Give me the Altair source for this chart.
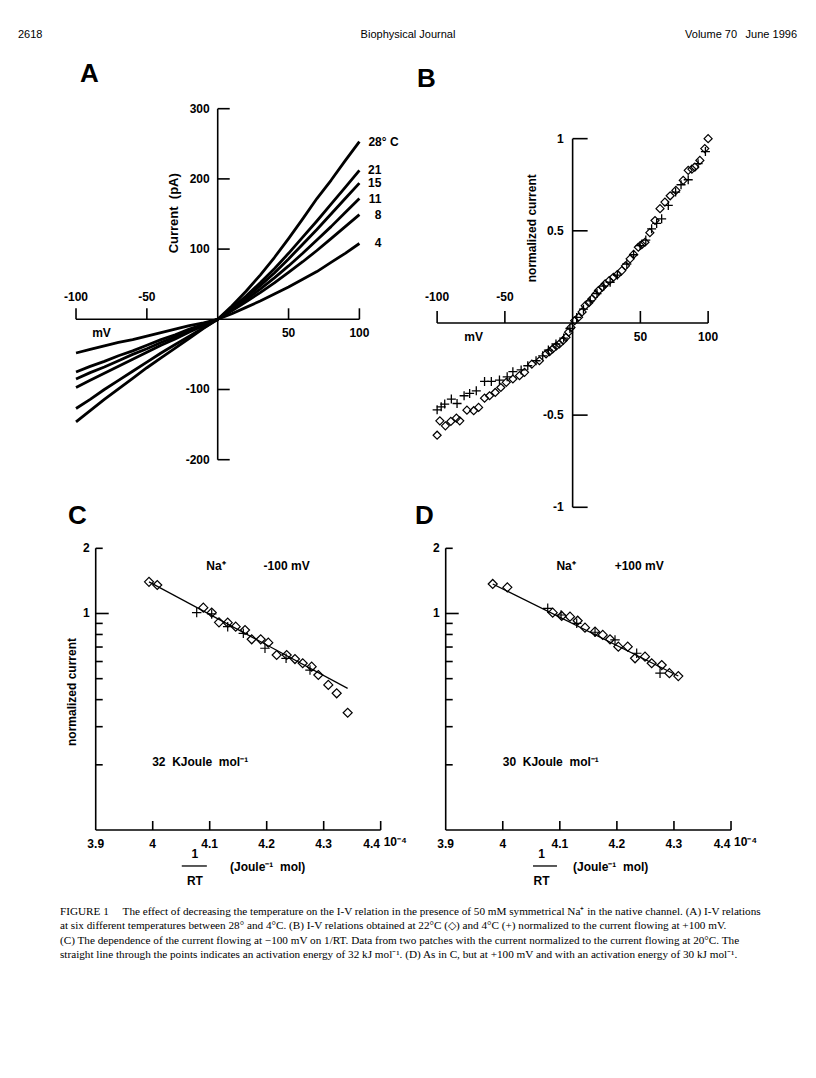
import altair as alt
import pandas as pd

SANS = "Liberation Sans"
SERIF = "Liberation Serif"
SP = "\u00a0"

# ---------------- data ----------------
# Panel A: I-V traces (mV, pA) at six temperatures
volt = [-100, -90, -80, -70, -60, -50, -40, -30, -20, -10, 0,
        10, 20, 30, 40, 50, 60, 70, 80, 90, 100]
trace_temps = ["28° C", "21", "15", "11", "8", "4"]
cur_28 = [-146, -130, -114, -99, -84, -69, -55, -41, -27, -13, 0, 19, 40, 63, 88, 115, 143, 172, 198, 226, 253]
cur_21 = [-127, -114, -100, -87, -74, -61, -48, -36, -24, -12, 0, 16, 33, 52, 72, 94, 117, 140, 164, 188, 212]
cur_15 = [-97, -87, -77, -67, -57, -47, -37, -28, -18, -9, 0, 15, 31, 48, 66, 86, 107, 128, 150, 172, 194]
cur_11 = [-85, -76, -68, -59, -50, -42, -33, -25, -16, -8, 0, 14, 28, 43, 59, 76, 94, 113, 132, 152, 172]
cur_8 = [-75, -67, -60, -52, -45, -37, -29, -22, -14, -7, 0, 12, 25, 38, 52, 67, 82, 98, 115, 132, 149]
cur_4 = [-48, -43, -38, -33, -29, -24, -19, -14, -9, -5, 0, 8, 17, 26, 36, 46, 57, 68, 81, 94, 108]
a_y_ticks = [300, 200, 100, -100, -200]
a_x_ticks = [-100, -50, 50, 100]

# Panel B: normalized I-V, 22 C (diamonds) and 4 C (plus)
b_diam_v = [-100, -98, -93.9, -89.9, -85.8, -83.3, -78, -73, -69.4, -65, -61.3, -57.1, -53, -49, -44.1,
            -39.2, -35.5, -30.1, -24.5, -19.6, -17, -14.7, -12, -9.8, -7, -4.9, -3, -1.2,
            1.5, 4.4, 7, 9.3, 12, 14.2, 17, 19.1, 22, 24, 27, 30.1, 33, 36.3, 39, 42.4, 45, 48.5, 51,
            53.4, 57, 60.8, 64.5, 68.1, 72, 76.2, 81.6, 85.3, 88, 90.2, 93.9, 97.5, 100]
b_diam_i = [-0.609, -0.531, -0.558, -0.534, -0.516, -0.531, -0.473, -0.476, -0.458, -0.408, -0.395, -0.377,
            -0.35, -0.322, -0.304, -0.286, -0.268, -0.223, -0.205, -0.168, -0.155, -0.141, -0.125, -0.114,
            -0.095, -0.078, -0.05, -0.024,
            0.012, 0.031, 0.06, 0.094, 0.11, 0.13, 0.155, 0.176, 0.195, 0.212, 0.23, 0.248, 0.262, 0.284,
            0.31, 0.348, 0.372, 0.411, 0.425, 0.438, 0.49, 0.556, 0.62, 0.656, 0.69, 0.719, 0.774, 0.828,
            0.835, 0.846, 0.882, 0.946, 1.0]
b_plus_v = [-100, -97, -94.4, -89.5, -85.3, -80.1, -76, -71.1, -65, -60, -54, -48.3, -44.1, -38, -33.1,
            -27, -22.1, -17.9, -12.3, -6.6, -2, 3, 8, 13, 18, 23, 27.7, 33, 40, 45, 49.8, 54, 58.3, 62,
            65.7, 70.6, 76, 80, 85.3, 92.6, 98]
b_plus_i = [-0.471, -0.455, -0.44, -0.413, -0.437, -0.395, -0.382, -0.368, -0.317, -0.317, -0.31, -0.292,
            -0.264, -0.255, -0.232, -0.205, -0.178, -0.147, -0.114, -0.082, -0.03, 0.03, 0.075, 0.12, 0.16,
            0.2, 0.221, 0.26, 0.32, 0.37, 0.42, 0.45, 0.511, 0.54, 0.565, 0.638, 0.71, 0.75, 0.777, 0.864, 0.93]
b_y_ticks = [1, 0.5, -0.5, -1]
b_y_labels = ["1", "0.5", "-0.5", "-1"]
b_x_ticks = [-100, -50, 50, 100]

# Panel C: current at -100 mV vs 1/RT (10^-4 mol/J)
c_diam_x = [3.9935, 4.008, 4.0888, 4.1035, 4.1163, 4.1316, 4.1456, 4.162, 4.1737, 4.1895, 4.2028,
            4.2175, 4.2351, 4.2496, 4.2632, 4.2789, 4.2906, 4.3081, 4.3228, 4.3421]
c_diam_y = [1.40, 1.354, 1.064, 1.01, 0.91, 0.907, 0.869, 0.839, 0.76, 0.76, 0.733,
            0.643, 0.643, 0.616, 0.589, 0.568, 0.52, 0.468, 0.428, 0.348]
c_plus_x = [4.0772, 4.1035, 4.1316, 4.159, 4.197, 4.234, 4.276]
c_plus_y = [1.01, 0.995, 0.869, 0.81, 0.691, 0.621, 0.548]
c_fit_x = [3.9935, 4.342]
c_fit_y = [1.40, 0.451]

# Panel D: current at +100 mV vs 1/RT
d_diam_x = [3.9824, 4.008, 4.0875, 4.1033, 4.1178, 4.1313, 4.1441, 4.1617, 4.1752, 4.188, 4.2025,
            4.219, 4.2318, 4.2493, 4.261, 4.2786, 4.292, 4.3076]
d_diam_y = [1.369, 1.321, 1.009, 0.974, 0.967, 0.926, 0.86, 0.824, 0.796, 0.76, 0.703,
            0.703, 0.621, 0.632, 0.589, 0.578, 0.53, 0.514]
d_plus_x = [4.0788, 4.1021, 4.1296, 4.1617, 4.1967, 4.2347, 4.2756]
d_plus_y = [1.057, 0.984, 0.901, 0.819, 0.755, 0.655, 0.53]
d_fit_x = [3.9824, 4.3076]
d_fit_y = [1.369, 0.514]

cd_x_ticks = [4.0, 4.1, 4.2, 4.3, 4.4]
cd_x_labels = ["3.9", "4", "4.1", "4.2", "4.3"]
cd_x_label_vals = [3.9, 4.0, 4.1, 4.2, 4.3]
cd_minor = [2, 0.9, 0.8, 0.7, 0.6, 0.5, 0.4, 0.3, 0.2]

caption_lines = [
    "FIGURE 1\u2003 The effect of decreasing the temperature on the I-V relation in the presence of 50 mM symmetrical Na\u207a in the native channel. (A) I-V relations",
    "at six different temperatures between 28\u00b0 and 4\u00b0C. (B) I-V relations obtained at 22\u00b0C (\u25c7) and 4\u00b0C (+) normalized to the current flowing at +100 mV.",
    "(C) The dependence of the current flowing at \u2212100 mV on 1/RT. Data from two patches with the current normalized to the current flowing at 20\u00b0C. The",
    "straight line through the points indicates an activation energy of 32 kJ mol\u207b\u00b9. (D) As in C, but at +100 mV and with an activation energy of 30 kJ mol\u207b\u00b9.",
]

# ---------------- helpers ----------------
PLUS = "M-1,0H1M0,-1V1"


def lin(domain):
    return alt.Scale(domain=domain, nice=False, zero=False)


def X(s, f="x"):
    return alt.X(f"{f}:Q", scale=s, axis=None)


def Y(s, f="y"):
    return alt.Y(f"{f}:Q", scale=s, axis=None)


def rules(df, xs, ys, width=1.6, **mk):
    return alt.Chart(df).mark_rule(color="black", strokeWidth=width, **mk).encode(
        x=X(xs), x2=alt.X2("x2:Q"), y=Y(ys), y2=alt.Y2("y2:Q"))


def yticks(vals, x0, xs, ys, length, width=1.6):
    df = pd.DataFrame({"x": [x0] * len(vals), "x2": [x0] * len(vals), "y": vals, "y2": vals})
    return rules(df, xs, ys, width=width, x2Offset=length)


def xticks(vals, y0, xs, ys, length):
    df = pd.DataFrame({"x": vals, "x2": vals, "y": [y0] * len(vals), "y2": [y0] * len(vals)})
    return rules(df, xs, ys, y2Offset=-length)


def texts(xv, yv, tv, xs, ys, size=12, weight="bold", font=SANS, **mk):
    df = pd.DataFrame({"x": xv, "y": yv, "t": tv})
    return alt.Chart(df).mark_text(font=font, fontSize=size, fontWeight=weight,
                                   color="black", **mk).encode(x=X(xs), y=Y(ys), text="t:N")


def letter(ch, px, py):
    return alt.Chart(pd.DataFrame({"t": [ch]})).mark_text(
        font=SANS, fontSize=26, fontWeight="bold", align="left", color="black").encode(
        x=alt.value(px), y=alt.value(py), text="t:N")


def symbols(xv, yv, xs, ys, shape, size, sw=1.2):
    df = pd.DataFrame({"x": xv, "y": yv})
    return alt.Chart(df).mark_point(shape=shape, size=size, filled=False, color="black",
                                    strokeWidth=sw, opacity=1).encode(x=X(xs), y=Y(ys))


# ---------------- panel A ----------------
xa = lin([-148.0, 128.65])
ya = lin([-285.9, 383.6])
traces = [cur_28, cur_21, cur_15, cur_11, cur_8, cur_4]
rows = []
for name, tr in zip(trace_temps, traces):
    for v, c in zip(volt, tr):
        rows.append({"x": v, "y": c, "t": name})
dfa = pd.DataFrame(rows)
a_lines = alt.Chart(dfa).mark_line(color="black", strokeWidth=2.8, strokeJoin="round").encode(
    x=X(xa), y=Y(ya), detail="t:N")
a_axes = rules(pd.DataFrame({"x": [0, -100], "x2": [0, 100], "y": [-200, 0], "y2": [300, 0]}), xa, ya)
a_end = [tr[-1] for tr in traces]
panelA = alt.layer(
    a_axes,
    yticks(a_y_ticks, 0, xa, ya, 12),
    xticks(a_x_ticks, 0, xa, ya, 11),
    texts([0] * 5, a_y_ticks, [str(v) for v in a_y_ticks], xa, ya, align="right", dx=-8),
    texts(a_x_ticks[:2], [0, 0], ["-100", "-50"], xa, ya, align="center", dy=-22),
    texts(a_x_ticks[2:], [0, 0], ["50", "100"], xa, ya, align="center", dy=14),
    texts([-82], [0], ["mV"], xa, ya, align="center", dy=14),
    texts([-31], [151], ["Current" + SP + SP + "(pA)"], xa, ya, size=13, angle=270, align="center"),
    a_lines,
    texts([100], a_end[:1], trace_temps[:1], xa, ya, align="left", dx=9),
    texts([100] * 5, a_end[1:], trace_temps[1:], xa, ya, align="right", dx=22),
    letter("A", 72, 24),
).properties(width=392, height=470)

# ---------------- panel B ----------------
xb = lin([-127.4, 167.8])
yb = lin([-1.069, 1.481])
panelB = alt.layer(
    rules(pd.DataFrame({"x": [0, -100], "x2": [0, 100], "y": [-1, 0], "y2": [1, 0]}), xb, yb),
    yticks(b_y_ticks, 0, xb, yb, 15),
    xticks(b_x_ticks, 0, xb, yb, 12),
    texts([0] * 4, b_y_ticks, b_y_labels, xb, yb, align="right", dx=-9),
    texts(b_x_ticks[:2], [0, 0], ["-100", "-50"], xb, yb, align="center", dy=-26),
    texts(b_x_ticks[2:], [0, 0], ["50", "100"], xb, yb, align="center", dy=14),
    texts([-73], [0], ["mV"], xb, yb, align="center", dy=14),
    texts([-30], [0.514], ["normalized current"], xb, yb, angle=270, align="center"),
    symbols(b_diam_v, b_diam_i, xb, yb, "diamond", 64),
    symbols(b_plus_v, b_plus_i, xb, yb, PLUS, 81, 1.3),
    letter("B", 17, 29),
).properties(width=400, height=470)


# ---------------- panels C and D ----------------
def arrhenius(xs, ys, diam_x, diam_y, plus_x, plus_y, fit_x, fit_y, info, energy,
              ylabel, let, let_x, xinfo):
    fit = alt.Chart(pd.DataFrame({"x": fit_x, "y": fit_y})).mark_line(
        color="black", strokeWidth=1.2).encode(x=X(xs), y=Y(ys))
    layers = [
        rules(pd.DataFrame({"x": [3.9, 3.9], "x2": [3.9, 4.4], "y": [0.1, 0.1], "y2": [2, 0.1]}), xs, ys),
        yticks([1], 3.9, xs, ys, 13),
        yticks(cd_minor, 3.9, xs, ys, 7),
        xticks(cd_x_ticks, 0.1, xs, ys, 9),
        texts(cd_x_label_vals, [0.1] * 5, cd_x_labels, xs, ys, align="center", dy=14),
        texts([4.4], [0.1], ["4.4"], xs, ys, align="center", dy=14, dx=-9),
        texts([4.4], [0.1], ["10\u207b\u2074"], xs, ys, align="left", dy=12, dx=3),
        texts([3.9, 3.9], [2, 1], ["2", "1"], xs, ys, align="right", dx=-6),
        texts([xinfo[0]], [0.1], ["1"], xs, ys, align="center", dy=24),
        rules(pd.DataFrame({"x": [xinfo[1]], "x2": [xinfo[2]], "y": [0.1], "y2": [0.1]}), xs, ys,
              width=1.3, yOffset=36, y2Offset=36),
        texts([xinfo[0]], [0.1], ["RT"], xs, ys, align="center", dy=51),
        texts([xinfo[3]], [0.1], ["(Joule\u207b\u00b9" + SP + SP + "mol)"], xs, ys, align="left", dy=37),
        texts([info[0]], [1.66], ["Na\u207a"], xs, ys, align="center"),
        texts([info[1]], [1.66], [info[2]], xs, ys, align="center"),
        texts([info[3]], [0.206], [energy], xs, ys, align="left"),
        fit,
        symbols(diam_x, diam_y, xs, ys, "diamond", 81),
        symbols(plus_x, plus_y, xs, ys, PLUS, 90, 1.2),
        letter(let, let_x, -4),
    ]
    if ylabel:
        layers.append(texts([3.858], [0.434], ["normalized current"], xs, ys, angle=270, align="center"))
    return alt.layer(*layers)


xc = lin([3.7461, 4.4339])
yc = alt.Scale(type="log", domain=[0.04749, 2.703], nice=False)
xd = lin([3.8199, 4.5209])
yd = alt.Scale(type="log", domain=[0.04749, 2.703], nice=False)

panelC = arrhenius(xc, yc, c_diam_x, c_diam_y, c_plus_x, c_plus_y, c_fit_x, c_fit_y,
                   [4.111, 4.235, "-100 mV", 3.999],
                   "32" + SP + SP + "KJoule" + SP + SP + "mol\u207b\u00b9", True, "C", 60,
                   [4.074, 4.051, 4.095, 4.1356]).properties(width=392, height=380)
panelD = arrhenius(xd, yd, d_diam_x, d_diam_y, d_plus_x, d_plus_y, d_fit_x, d_fit_y,
                   [4.111, 4.239, "+100 mV", 4.0],
                   "30" + SP + SP + "KJoule" + SP + SP + "mol\u207b\u00b9", False, "D", 15,
                   [4.068, 4.053, 4.095, 4.1231]).properties(width=400, height=380)


# ---------------- header and caption ----------------
def free_text(t, px, py, align, size, font=SANS, weight="normal"):
    return alt.Chart(pd.DataFrame({"t": [t]})).mark_text(
        font=font, fontSize=size, fontWeight=weight, align=align, color="black").encode(
        x=alt.value(px), y=alt.value(py), text="t:N")


header_left = alt.layer(
    free_text("2618", 10, 27, "left", 11),
    free_text("Biophysical Journal", 400, 27, "center", 11),
).properties(width=392, height=42)
header_right = free_text("Volume 70\u2002 June 1996", 397, 27, "right", 11).properties(width=400, height=42)

caption_left = alt.layer(
    *[free_text(line, 52, 12 + 14.4 * i, "left", 11.2, font=SERIF) for i, line in enumerate(caption_lines)]
).properties(width=392, height=90)
caption_right = free_text(" ", 10, 10, "left", 10).properties(width=400, height=90)

chart = alt.concat(
    header_left, header_right,
    panelA, panelB,
    panelC, panelD,
    caption_left, caption_right,
    columns=2, spacing=0, bounds="flush",
).properties(padding=0).configure_view(stroke=None)

chart.save("out.html", embed_options={"renderer": "svg", "actions": False})
